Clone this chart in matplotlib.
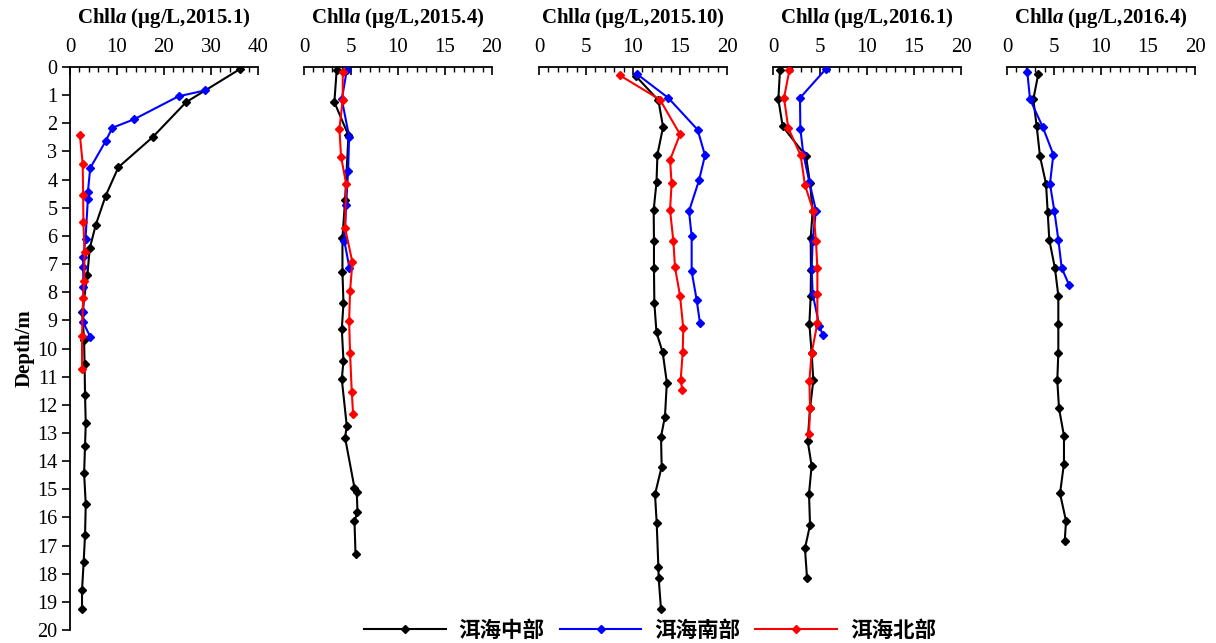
import matplotlib
matplotlib.use("Agg")
import matplotlib.pyplot as plt
import matplotlib.ticker as mt
from matplotlib.lines import Line2D

plt.rcParams['font.family'] = ['Liberation Serif', 'DejaVu Serif']
plt.rcParams['mathtext.fontset'] = 'custom'
plt.rcParams['mathtext.it'] = 'Liberation Serif:italic:bold'
plt.rcParams['mathtext.rm'] = 'Liberation Serif:bold'
plt.rcParams['mathtext.bf'] = 'Liberation Serif:bold'

# ---------------- data ----------------
periods = ["2015.1", "2015.4", "2015.10", "2016.1", "2016.4"]
xmax = [40, 20, 20, 20, 20]
series_names = ["洱海中部", "洱海南部", "洱海北部"]
series_colors = ["black", "blue", "red"]

# 2015.1
d_c_1501 = [0.08, 1.25, 2.49, 3.56, 4.57, 5.6, 6.44, 7.38, 8.72, 9.7, 10.56, 11.65, 12.66, 13.45, 14.43, 15.53, 16.62, 17.6, 18.58, 19.24]
v_c_1501 = [36.1, 24.7, 17.6, 10.3, 7.6, 5.5, 4.2, 3.7, 2.6, 3.0, 3.1, 3.2, 3.35, 3.2, 3.0, 3.35, 3.2, 2.9, 2.56, 2.56]
d_s_1501 = [0.83, 1.04, 1.86, 2.16, 2.63, 3.59, 4.45, 4.69, 6.11, 6.76, 7.09, 7.83, 8.72, 9.07, 9.58]
v_s_1501 = [28.8, 23.1, 13.6, 9.0, 7.6, 4.3, 3.8, 3.8, 3.3, 2.8, 2.8, 2.85, 2.85, 2.8, 4.3]
d_n_1501 = [2.41, 3.44, 4.54, 5.52, 6.58, 7.59, 8.19, 9.55, 10.73]
v_n_1501 = [2.1, 2.7, 2.8, 2.85, 3.1, 3.0, 2.8, 2.56, 2.56]

# 2015.4
d_c_1504 = [0.09, 1.25, 2.43, 4.74, 6.07, 7.29, 8.4, 9.31, 10.44, 11.09, 12.75, 13.17, 14.95, 15.09, 15.8, 16.14, 17.3]
v_c_1504 = [3.48, 3.23, 4.73, 4.37, 4.09, 4.09, 4.2, 4.02, 4.2, 4.02, 4.55, 4.37, 5.37, 5.61, 5.69, 5.37, 5.48]
d_s_1504 = [0.12, 1.15, 2.47, 3.7, 4.89, 6.19, 7.14]
v_s_1504 = [4.55, 4.02, 4.8, 4.69, 4.48, 4.3, 4.83]
d_n_1504 = [0.18, 1.16, 2.19, 3.18, 4.15, 5.72, 6.94, 7.95, 9.04, 10.16, 11.53, 12.31]
v_n_1504 = [4.12, 4.12, 3.77, 3.94, 4.48, 4.37, 5.15, 4.9, 4.8, 4.9, 5.08, 5.22]

# 2015.10
d_c_1510 = [0.33, 1.18, 2.13, 3.11, 4.09, 5.08, 6.17, 7.15, 8.39, 9.43, 10.14, 11.21, 12.42, 13.13, 14.2, 15.18, 16.19, 17.77, 18.15, 19.27]
v_c_1510 = [10.32, 12.7, 13.2, 12.6, 12.5, 12.2, 12.23, 12.23, 12.27, 12.5, 13.16, 13.6, 13.4, 12.98, 13.05, 12.34, 12.52, 12.7, 12.73, 12.98]
d_s_1510 = [0.26, 1.1, 2.23, 3.14, 4.03, 5.12, 6.01, 7.26, 8.27, 9.11]
v_s_1510 = [10.46, 13.76, 16.88, 17.66, 17.02, 15.96, 16.24, 16.24, 16.77, 17.13]
d_n_1510 = [0.3, 1.16, 2.39, 3.3, 4.13, 5.08, 6.17, 7.12, 8.12, 9.28, 10.12, 11.13, 11.48]
v_n_1510 = [8.62, 12.87, 15.0, 13.94, 14.11, 13.94, 14.29, 14.47, 15.0, 15.35, 15.29, 15.07, 15.25]

# 2016.1
d_c_1601 = [0.12, 1.15, 2.11, 3.17, 4.13, 5.1, 6.08, 7.21, 8.12, 9.13, 10.16, 11.13, 12.12, 13.28, 14.17, 15.16, 16.27, 17.1, 18.15]
v_c_1601 = [0.74, 0.57, 1.03, 3.51, 3.94, 4.22, 4.01, 4.04, 4.01, 3.87, 4.11, 4.29, 3.94, 3.69, 4.11, 3.83, 3.94, 3.4, 3.62]
d_s_1601 = [0.08, 1.1, 2.19, 3.08, 4.09, 5.1, 6.17, 7.17, 8.06, 9.19, 9.51]
v_s_1601 = [5.6, 2.87, 2.91, 3.22, 3.87, 4.57, 4.22, 4.11, 4.22, 4.93, 5.28]
d_n_1601 = [0.12, 1.1, 2.17, 3.14, 4.19, 5.12, 6.17, 7.15, 8.06, 9.11, 10.16, 11.15, 12.12, 13.02]
v_n_1601 = [1.74, 1.17, 1.63, 2.94, 3.4, 4.29, 4.57, 4.72, 4.72, 4.72, 4.11, 3.87, 3.94, 3.83]

# 2016.4
d_c_1604 = [0.24, 1.15, 2.11, 3.17, 4.15, 5.16, 6.14, 7.15, 8.12, 9.13, 10.16, 11.13, 12.12, 13.1, 14.09, 15.15, 16.13, 16.84]
v_c_1604 = [3.33, 2.8, 3.16, 3.51, 4.15, 4.33, 4.5, 5.1, 5.46, 5.46, 5.46, 5.35, 5.53, 6.06, 6.06, 5.64, 6.28, 6.14]
d_s_1604 = [0.18, 1.15, 2.13, 3.11, 4.15, 5.12, 6.13, 7.14, 7.74]
v_s_1604 = [2.16, 2.45, 3.8, 4.93, 4.57, 5.04, 5.46, 5.82, 6.6]

panels = [
    [(v_c_1501, d_c_1501), (v_s_1501, d_s_1501), (v_n_1501, d_n_1501)],
    [(v_c_1504, d_c_1504), (v_s_1504, d_s_1504), (v_n_1504, d_n_1504)],
    [(v_c_1510, d_c_1510), (v_s_1510, d_s_1510), (v_n_1510, d_n_1510)],
    [(v_c_1601, d_c_1601), (v_s_1601, d_s_1601), (v_n_1601, d_n_1601)],
    [(v_c_1604, d_c_1604), (v_s_1604, d_s_1604), None],
]
depth_ticks = list(range(0, 21))

# ---------------- figure ----------------
W, H = 1216, 643
fig = plt.figure(figsize=(W / 100, H / 100), dpi=100)

lefts_px = [70, 304, 539, 773, 1007]
ax_w_px = 188
top_px, bot_px = 67, 630

for i, lp in enumerate(lefts_px):
    ax = fig.add_axes([lp / W, (H - bot_px) / H, ax_w_px / W, (bot_px - top_px) / H])
    for j, s in enumerate(panels[i]):
        if s is None:
            continue
        x, y = s
        ax.plot(x, y, color=series_colors[j], lw=1.5, marker='D', ms=4,
                mec=series_colors[j], mfc=series_colors[j], zorder=3 + j * 0.1)
    ax.set_xlim(0, xmax[i])
    ax.set_ylim(20, 0)
    ax.xaxis.tick_top()
    ax.xaxis.set_major_locator(mt.MultipleLocator(10 if xmax[i] == 40 else 5))
    ax.xaxis.set_minor_locator(mt.MultipleLocator(2 if xmax[i] == 40 else 1))
    ax.tick_params(axis='x', which='major', direction='in', length=6, width=1.2,
                   labelsize=15, pad=7, top=True, bottom=False)
    ax.tick_params(axis='x', which='minor', direction='in', length=3.5, width=1.0,
                   top=True, bottom=False)
    for sp in ['bottom', 'right']:
        ax.spines[sp].set_visible(False)
    ax.spines['top'].set_linewidth(1.3)
    if i == 0:
        ax.set_yticks(depth_ticks)
        ax.tick_params(axis='y', direction='out', length=6, width=1.2, labelsize=14.5, pad=3)
        ax.spines['left'].set_linewidth(1.3)
        ax.set_ylabel("Depth/m", fontsize=15, fontweight='bold', labelpad=2)
    else:
        ax.spines['left'].set_visible(False)
        ax.set_yticks([])
    ax.patch.set_alpha(0)
    cx = (lp + ax_w_px / 2) / W
    fig.text(cx, (H - 18) / H, r"Chll$\mathit{a}$ (μg/L," + periods[i] + ")",
             ha='center', va='center', fontsize=15, fontweight='bold')

handles = [Line2D([], [], color=c, lw=1.5, marker='D', ms=4) for c in series_colors]
leg = fig.legend(handles, series_names, loc='center', bbox_to_anchor=(650 / W, (H - 630) / H),
                 ncol=3, frameon=False, handlelength=3.8, columnspacing=0.7, handletextpad=0.6,
                 prop={'family': ['Noto Sans CJK SC'], 'weight': 'bold', 'size': 15.5})

fig.savefig("out.png", dpi=100)
